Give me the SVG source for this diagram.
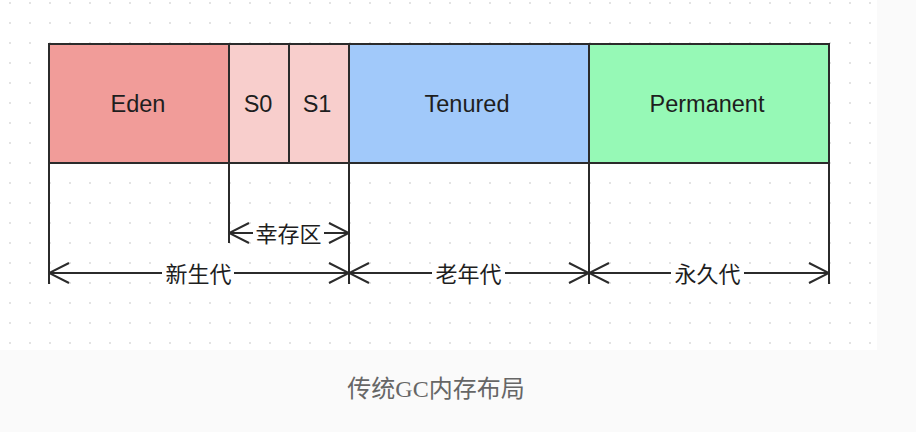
<svg xmlns="http://www.w3.org/2000/svg" width="916" height="432" viewBox="0 0 916 432">
  <defs>
    <pattern id="grid" x="0" y="13" width="20" height="20" patternUnits="userSpaceOnUse">
      <circle cx="10" cy="10" r="0.9" fill="#d6d6d6"/>
    </pattern>
    <marker id="arr" viewBox="0 0 22 22" markerWidth="22" markerHeight="22" refX="21" refY="11" orient="auto-start-reverse" markerUnits="userSpaceOnUse">
      <path d="M1,1 L21,11 L1,21" fill="none" stroke="#2b2b2b" stroke-width="2"/>
    </marker>
    <style>
      .box { stroke: #2b2b2b; stroke-width: 2; }
      .lbl { font-family: "Liberation Sans", Arial, sans-serif; font-size: 23.5px; fill: #1e1e1e; text-anchor: middle; dominant-baseline: central; }
      .ln { stroke: #2b2b2b; stroke-width: 2; fill: none; }
      .dim { stroke: #2b2b2b; stroke-width: 2; fill: none; marker-start: url(#arr); marker-end: url(#arr); }
      .cn { font-family: "Noto Sans CJK SC", "Liberation Sans", sans-serif; font-size: 22px; fill: #1e1e1e; text-anchor: middle; dominant-baseline: central; }
      .bg { fill: #ffffff; }
      .cap { font-family: "Liberation Serif", "Noto Sans CJK SC", serif; font-size: 24px; fill: #666666; text-anchor: middle; dominant-baseline: central; }
    </style>
  </defs>

  <rect x="0" y="0" width="916" height="432" fill="#fafafa"/>
  <rect x="0" y="0" width="877" height="350" fill="#ffffff"/>
  <rect x="0" y="0" width="877" height="350" fill="url(#grid)"/>

  <g id="eden">
    <rect class="box" x="49" y="44" width="180" height="119" fill="#f19c99"/>
    <text class="lbl" x="138" y="104">Eden</text>
  </g>
  <g id="s0">
    <rect class="box" x="229" y="44" width="60" height="119" fill="#f8cecc"/>
    <text class="lbl" x="258" y="104">S0</text>
  </g>
  <g id="s1">
    <rect class="box" x="289" y="44" width="60" height="119" fill="#f8cecc"/>
    <text class="lbl" x="317" y="104">S1</text>
  </g>
  <g id="tenured">
    <rect class="box" x="349" y="44" width="240" height="119" fill="#a1c9fa"/>
    <text class="lbl" x="467" y="104">Tenured</text>
  </g>
  <g id="permanent">
    <rect class="box" x="589" y="44" width="240" height="119" fill="#96f9b6"/>
    <text class="lbl" x="707" y="104">Permanent</text>
  </g>

  <g id="connectors">
    <line class="ln" x1="49" y1="163" x2="49" y2="284"/>
    <line class="ln" x1="229" y1="163" x2="229" y2="243"/>
    <line class="ln" x1="349" y1="163" x2="349" y2="284"/>
    <line class="ln" x1="589" y1="163" x2="589" y2="284"/>
    <line class="ln" x1="829" y1="163" x2="829" y2="284"/>

    <line id="survivor" class="dim" x1="229" y1="233" x2="349" y2="233"/>
    <line id="young" class="dim" x1="49" y1="273" x2="349" y2="273"/>
    <line id="old" class="dim" x1="349" y1="273" x2="589" y2="273"/>
    <line id="perm" class="dim" x1="589" y1="273" x2="829" y2="273"/>

    <rect class="bg" x="253" y="221" width="71" height="24"/>
    <text class="cn" x="288.5" y="232">幸存区</text>
    <rect class="bg" x="162" y="261" width="72" height="24"/>
    <text class="cn" x="198.5" y="272">新生代</text>
    <rect class="bg" x="432" y="261" width="73" height="24"/>
    <text class="cn" x="468.5" y="272">老年代</text>
    <rect class="bg" x="671" y="261" width="73" height="24"/>
    <text class="cn" x="707.5" y="272">永久代</text>
  </g>

  <text class="cap" x="436" y="389">传统GC内存布局</text>
</svg>
